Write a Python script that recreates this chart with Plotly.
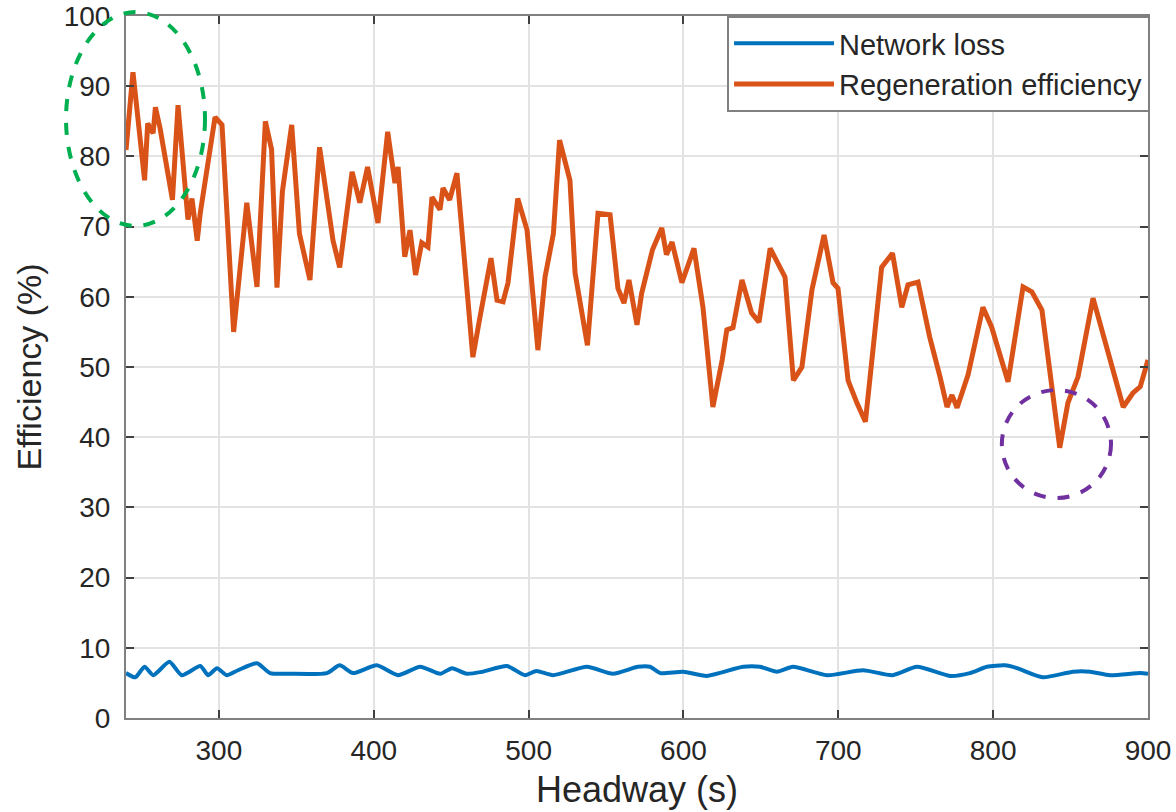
import plotly.graph_objects as go

# Regeneration efficiency (%) versus headway (s)
regen_headway = [240, 244.5, 252, 254, 257.5, 259, 262, 270, 273.6, 280, 282.6, 286, 288,
                 297.5, 302, 309.5, 318, 324.6, 330, 334, 337.5, 341, 347, 352, 358.8,
                 365, 373.7, 378, 386, 391, 396, 402.7, 409, 413.7, 415.7, 420, 423.4,
                 427, 431, 435, 437.6, 442.8, 444.7, 449, 453.7, 464, 468.6, 475.7,
                 479.6, 483.5, 486.7, 493, 499, 506, 510.6, 516, 520, 526.7, 530, 538,
                 544.8, 552.6, 557.7, 561.6, 564.8, 570, 573, 576.5, 580, 586, 589,
                 592.6, 599, 606.8, 612.6, 619, 625, 628, 632, 637.8, 644, 648.8, 656,
                 665.6, 671, 676.5, 683, 690.8, 696.6, 699.8, 706.3, 712, 717.5, 728,
                 735, 741, 745, 751.5, 759, 765.7, 770.2, 773.4, 776.7, 783.8, 793.4,
                 799, 809.6, 819.3, 825, 831.5, 843, 848.3, 854.8, 864.5, 873, 884,
                 890.3, 895, 900]
regen_eff = [80.9, 92, 76.6, 84.7, 83.3, 87, 84, 73.8, 87.3, 71, 74, 68, 72,
             85.6, 84.5, 55, 73.4, 61.4, 85, 81, 61.3, 75, 84.5, 69, 62.4,
             81.3, 68, 64.2, 77.8, 73.4, 78.5, 70.5, 83.5, 76.2, 78.5, 65.7, 69.5,
             63.1, 67.7, 67.1, 74.2, 72.4, 75.5, 73.8, 77.6, 51.4, 57.1, 65.5,
             59.5, 59.3, 62, 74, 69.5, 52.4, 62.8, 69, 82.3, 76.6, 63.4, 53.1,
             71.9, 71.7, 61.2, 59.1, 62.4, 56, 60.5, 63.4, 66.7, 69.8, 66,
             67.8, 62, 66.9, 58.5, 44.3, 51, 55.3, 55.6, 62.4, 57.7, 56.4, 66.9,
             62.8, 48.1, 50, 61, 68.8, 62, 61.2, 48.1, 44.9, 42.2, 64.2,
             66.2, 58.5, 61.7, 62.1, 54.3, 48.6, 44.3, 46, 44.2, 48.9, 58.5,
             55.7, 47.9, 61.4, 60.7, 58.1, 38.5, 44.9, 48.6, 59.8, 52.8, 44.3,
             46.3, 47.2, 51]

# Network loss (%) versus headway (s)
loss_headway = [240, 246, 252, 257.6, 268, 276, 288, 293, 298.8, 305, 312.3, 324.6,
                333, 346, 369.8, 378, 386.6, 402, 415.7, 430, 443, 450.5, 460, 470.5,
                486, 497.7, 505, 515.8, 537.7, 554.5, 570.6, 578.4, 585, 599.7, 615,
                638.5, 649.4, 660.4, 670.7, 692.7, 716, 735, 750.8, 772, 785, 796,
                807.6, 815.4, 832, 851.6, 862.6, 875.5, 895, 900]
loss_eff = [6.4, 5.8, 7.3, 6.1, 8, 6.1, 7.4, 6.1, 7.1, 6.1, 6.8, 7.8,
            6.4, 6.3, 6.4, 7.5, 6.4, 7.5, 6.1, 7.3, 6.3, 7.1, 6.3, 6.6,
            7.4, 6.1, 6.7, 6.1, 7.3, 6.3, 7.3, 7.3, 6.4, 6.6, 6.0,
            7.3, 7.3, 6.6, 7.3, 6.1, 6.8, 6.1, 7.3, 6.0, 6.4, 7.3,
            7.5, 7.1, 5.8, 6.6, 6.6, 6.1, 6.4, 6.3]

x_ticks = [300, 400, 500, 600, 700, 800, 900]
y_ticks = [0, 10, 20, 30, 40, 50, 60, 70, 80, 90, 100]

BLUE = "#0072BD"
ORANGE = "#D95319"
FONT = "Liberation Sans, Arial, sans-serif"
AXIS_GREY = "#808080"
TEXT_GREY = "#262626"

fig = go.Figure()
fig.add_trace(go.Scatter(x=loss_headway, y=loss_eff, mode="lines", name="Network loss",
                         line=dict(color=BLUE, width=4, shape="spline", smoothing=0.6)))
fig.add_trace(go.Scatter(x=regen_headway, y=regen_eff, mode="lines",
                         name="Regeneration efficiency",
                         line=dict(color=ORANGE, width=5)))

axis_common = dict(
    showgrid=True, gridcolor="#e3e3e3", gridwidth=1.5,
    showline=True, linecolor=AXIS_GREY, linewidth=2, mirror="allticks",
    ticks="inside", ticklen=8, tickwidth=2, tickcolor="#404040",
    tickfont=dict(family=FONT, size=28, color=TEXT_GREY),
    zeroline=False, automargin=False,
)

fig.update_xaxes(range=[240, 900], tickvals=x_ticks, ticklabelstandoff=6,
                 title=dict(text="Headway (s)", font=dict(family=FONT, size=36, color=TEXT_GREY),
                            standoff=12),
                 **axis_common)
fig.update_yaxes(range=[0, 100], tickvals=y_ticks, ticklabelstandoff=8,
                 title=dict(text="Efficiency (%)", font=dict(family=FONT, size=34, color=TEXT_GREY),
                            standoff=12),
                 **axis_common)

# Highlight rings: early high-efficiency peaks and the late low dip
fig.add_shape(type="circle", xref="paper", yref="paper",
              x0=-0.0587, x1=0.0773, y0=0.7009, y1=1.0057,
              line=dict(color="#00B050", width=4, dash="dash"), layer="above")
fig.add_shape(type="circle", xref="paper", yref="paper",
              x0=0.857, x1=0.9638, y0=0.3134, y1=0.4672,
              line=dict(color="#7030A0", width=4, dash="dash"), layer="above")

fig.update_layout(
    width=1176, height=812,
    margin=dict(l=126, r=28, t=16, b=94),
    paper_bgcolor="white", plot_bgcolor="white",
    showlegend=True,
    legend=dict(x=1.002, y=1.0, xanchor="right", yanchor="top",
                bgcolor="white", bordercolor=AXIS_GREY, borderwidth=2,
                font=dict(family=FONT, size=29, color=TEXT_GREY),
                itemwidth=100, tracegroupgap=0),
)

fig.write_html("out.html")
